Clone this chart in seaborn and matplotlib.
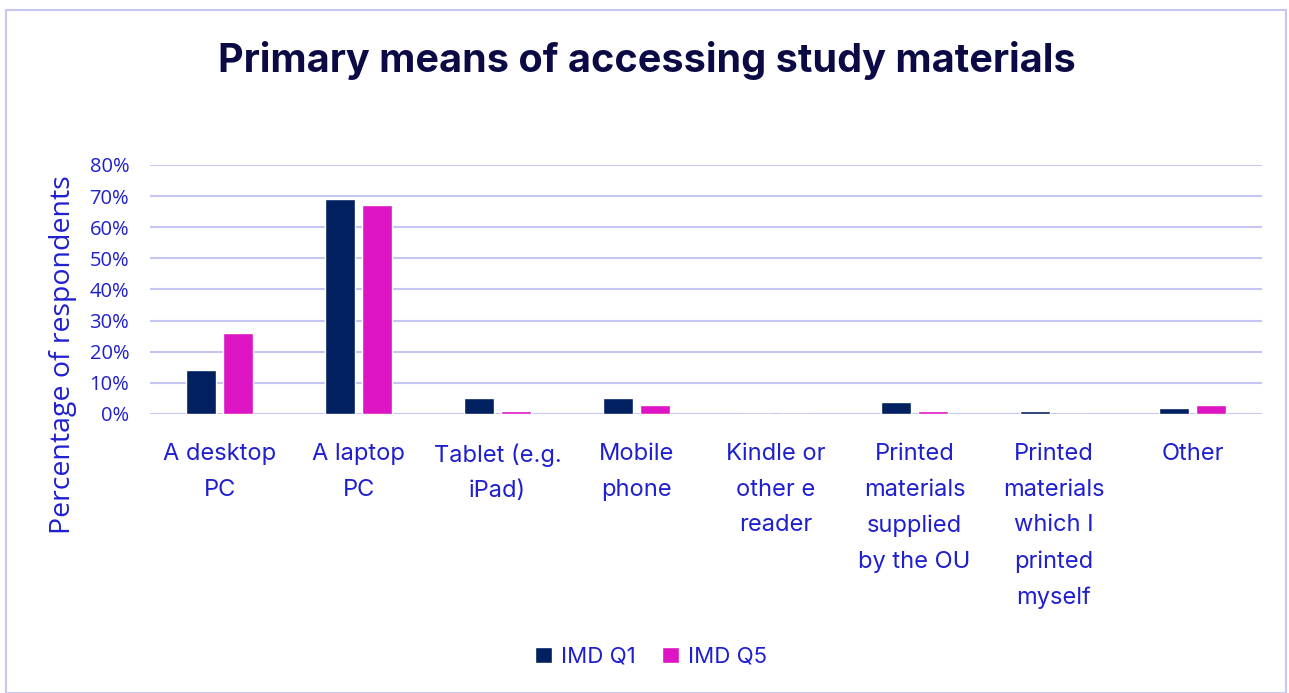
import numpy as np
import pandas as pd
import matplotlib.pyplot as plt
import seaborn as sns
from matplotlib.ticker import PercentFormatter
from matplotlib.patches import Rectangle

categories = [
    'A desktop\nPC',
    'A laptop\nPC',
    'Tablet (e.g.\niPad)',
    'Mobile\nphone',
    'Kindle or\nother e\nreader',
    'Printed\nmaterials\nsupplied\nby the OU',
    'Printed\nmaterials\nwhich I\nprinted\nmyself',
    'Other',
]
imd_q1 = [0.14, 0.69, 0.05, 0.05, 0.0, 0.04, 0.01, 0.02]
imd_q5 = [0.26, 0.67, 0.01, 0.03, 0.0, 0.01, 0.0, 0.03]
groups = ['IMD Q1', 'IMD Q5']

df = pd.DataFrame({
    'Category': categories * 2,
    'Share': imd_q1 + imd_q5,
    'Group': [groups[0]] * len(categories) + [groups[1]] * len(categories),
})

sns.set_style('white')
plt.rcParams['font.family'] = ['Inter', 'DejaVu Sans']

blue_text = '#1f1fd0'
grid_col = '#c6c6f5'

fig = plt.figure(figsize=(12.89, 6.93), dpi=100)
ax = fig.add_axes([0.1164, 0.4026, 0.8627, 0.3594])

sns.barplot(
    data=df,
    x='Category',
    y='Share',
    hue='Group',
    palette=['#002060', '#dd15c4'],
    saturation=1,
    width=0.53,
    gap=0.19,
    ax=ax,
    legend=True,
)

ax.set_ylim(0, 0.8)
ax.set_yticks(np.arange(0, 0.81, 0.1))
ax.yaxis.set_major_formatter(PercentFormatter(1.0, decimals=0))
ax.grid(axis='y', color=grid_col, linewidth=1.5)
ax.set_axisbelow(True)
for s in ax.spines.values():
    s.set_visible(False)
ax.tick_params(axis='both', length=0)
ax.tick_params(axis='x', pad=21)
ax.tick_params(axis='y', pad=15)

for lbl in ax.get_yticklabels():
    lbl.set_fontfamily('Open Sans')
    lbl.set_fontsize(14.5)
    lbl.set_color(blue_text)
for lbl in ax.get_xticklabels():
    lbl.set_fontsize(17)
    lbl.set_color(blue_text)
    lbl.set_linespacing(1.8)
    lbl.set_verticalalignment('top')

ax.set_xlabel('')
ax.set_ylabel('Percentage of respondents', fontsize=20.5, color=blue_text,
              fontfamily='Open Sans')
ax.yaxis.set_label_coords(-0.066, 0.237)

fig.text(0.502, 0.912, 'Primary means of accessing study materials',
         ha='center', va='center', fontsize=28.5, fontweight='bold',
         color='#0c0a45')

handles, labels = ax.get_legend_handles_labels()
ax.legend_.remove()
fig.legend(handles, labels, loc='center', bbox_to_anchor=(0.505, 0.052),
           ncol=2, frameon=False, fontsize=16, labelcolor=blue_text,
           handlelength=0.75, handleheight=0.75, handletextpad=0.4,
           columnspacing=1.2)

fig.patches.append(Rectangle((0.005, 0.0), 0.993, 0.985, transform=fig.transFigure,
                             fill=False, edgecolor=grid_col, linewidth=1.5))

fig.savefig('out.png', dpi=100)
